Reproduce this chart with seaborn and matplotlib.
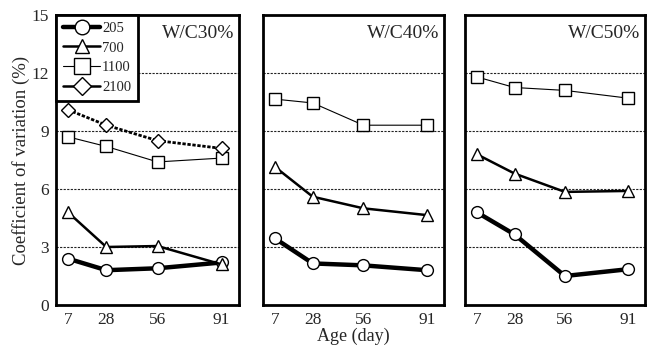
import matplotlib
matplotlib.use("Agg")
import matplotlib.pyplot as plt
from matplotlib.lines import Line2D
import seaborn as sns
import pandas as pd

ages = [7, 28, 56, 91]
panels = ["W/C30%", "W/C40%", "W/C50%"]
series_names = ["205", "700", "1100", "2100"]

wc30 = {"205": [2.4, 1.8, 1.9, 2.2],
        "700": [4.8, 3.0, 3.05, 2.1],
        "1100": [8.7, 8.2, 7.4, 7.6],
        "2100": [10.1, 9.3, 8.5, 8.1]}
wc40 = {"205": [3.45, 2.15, 2.05, 1.8],
        "700": [7.15, 5.6, 5.0, 4.65],
        "1100": [10.65, 10.45, 9.3, 9.3]}
wc50 = {"205": [4.8, 3.65, 1.5, 1.85],
        "700": [7.8, 6.8, 5.85, 5.9],
        "1100": [11.8, 11.25, 11.1, 10.7]}
panel_data = [wc30, wc40, wc50]

yticks = [0, 3, 6, 9, 12, 15]
xticks = [7, 28, 56, 91]

sns.set_theme(style="white")
plt.rcParams["font.family"] = ["Liberation Serif", "DejaVu Serif"]

styles = {
    "205": dict(marker="o", lw=3.2, ms=8.5, ls="-"),
    "700": dict(marker="^", lw=1.8, ms=8, ls="-"),
    "1100": dict(marker="s", lw=0.8, ms=9, ls="-"),
    "2100": dict(marker="D", lw=2.0, ms=7, ls=(0, (1.2, 0.6))),
}

fig = plt.figure(figsize=(6.6, 3.5), dpi=100)
lefts = [56 / 660, 263 / 660, 465 / 660]
widths = [183 / 660, 181 / 660, 180 / 660]
bottom = 1 - 305 / 350
height = 290 / 350

axes = []
for i, (lab, d) in enumerate(zip(panels, panel_data)):
    ax = fig.add_axes([lefts[i], bottom, widths[i], height])
    axes.append(ax)
    for y in [3, 6, 9, 12]:
        ax.axhline(y, color="#222222", lw=0.8, ls=(0, (2, 1.2)), zorder=0)
    for name in series_names:
        if name not in d:
            continue
        st = styles[name]
        df = pd.DataFrame({"age": ages, "cv": d[name]})
        sns.lineplot(data=df, x="age", y="cv", ax=ax, color="black",
                     lw=st["lw"], linestyle=st["ls"], marker=st["marker"],
                     markersize=st["ms"], markerfacecolor="white",
                     markeredgecolor="black", markeredgewidth=1.0,
                     legend=False, zorder=3)
    ax.set_xlim(0.5, 100.5)
    ax.set_ylim(0, 15)
    ax.set_xticks(xticks)
    ax.set_xticklabels([str(t) for t in xticks], fontsize=12.5)
    ax.set_yticks(yticks)
    if i == 0:
        ax.set_yticklabels([str(t) for t in yticks], fontsize=12.5)
        ax.set_ylabel("Coefficient of variation (%)", fontsize=13.5)
        ax.yaxis.set_label_coords(-0.14, 0.5)
    else:
        ax.set_yticklabels([])
        ax.set_ylabel("")
    if i == 1:
        ax.set_xlabel("Age (day)", fontsize=13, labelpad=0)
    else:
        ax.set_xlabel("")
    ax.tick_params(length=0, pad=5)
    for sp in ax.spines.values():
        sp.set_visible(True)
        sp.set_color("black")
        sp.set_linewidth(2.0)
    ax.text(0.975, 0.967, lab, transform=ax.transAxes, ha="right", va="top",
            fontsize=14)

handles = []
for name in series_names:
    st = styles[name]
    handles.append(Line2D([], [], color="black", lw=st["lw"] if name != "2100" else 1.8,
                          ls="-", marker=st["marker"], markersize=st["ms"] + 2,
                          markerfacecolor="white", markeredgecolor="black",
                          markeredgewidth=1.0))
leg = axes[0].legend(handles, series_names, loc="upper left", borderaxespad=0,
                     fontsize=10.5, handlelength=2.6, handletextpad=0.1,
                     labelspacing=0.45, borderpad=0.45, fancybox=False,
                     frameon=True)
leg.get_frame().set_edgecolor("black")
leg.get_frame().set_linewidth(2.0)
leg.get_frame().set_alpha(1)

fig.savefig("out.png", dpi=100)
